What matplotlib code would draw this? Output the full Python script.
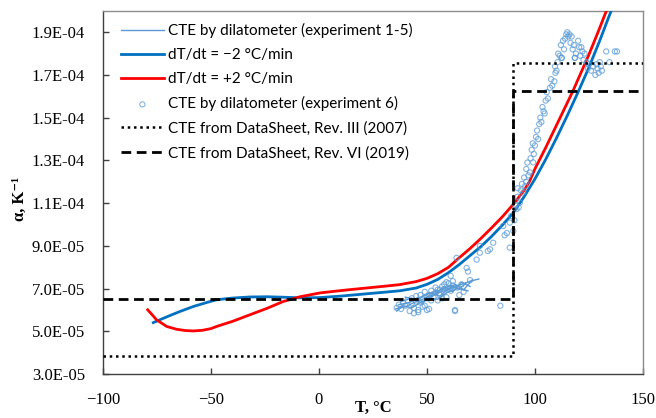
import numpy as np
import matplotlib.pyplot as plt
from matplotlib.ticker import FuncFormatter, MultipleLocator

# fitted curves (alpha in 1e-5 K^-1)
t_cool = [-76.7, -70, -64.4, -58, -52, -47.4, -40, -32, -24, -16.7, -8.8, 0, 10, 20, 30, 37.5,
          45, 50, 55, 60, 65, 70, 75, 80, 85, 90, 95, 100, 105, 110, 115, 120, 125,
          130, 134, 136.5]
a_cool = [5.41, 5.70, 5.93, 6.17, 6.35, 6.48, 6.56, 6.61, 6.62, 6.60, 6.57, 6.58, 6.65, 6.74,
          6.83, 6.90, 7.03, 7.20, 7.43, 7.75, 8.13, 8.55, 8.97, 9.45, 9.98, 10.55, 11.3, 12.13,
          13.05, 14.05, 15.1, 16.2, 17.35, 18.6, 19.66, 20.3]

t_heat = [-79.3, -77, -75.2, -72, -70.5, -66, -62, -58.2, -54, -50, -47.4, -40, -31.9, -24,
          -16.5, -8.8, 0.5, 6.6, 14, 22, 30, 37.5, 45, 50, 55, 60, 65, 70, 75, 80, 85,
          90, 95, 97.4, 100, 105, 110, 115, 117.7, 120, 125, 130, 132.5, 133.6]
a_heat = [6.01, 5.75, 5.54, 5.33, 5.23, 5.10, 5.04, 5.02, 5.05, 5.13, 5.23, 5.47, 5.78, 6.08,
          6.40, 6.62, 6.80, 6.87, 6.95, 7.03, 7.11, 7.19, 7.33, 7.48, 7.70, 8.00, 8.45, 8.88,
          9.35, 9.85, 10.37, 10.95, 11.6, 12.0, 12.6, 13.6, 14.65, 15.7, 16.27, 16.8, 17.95,
          19.2, 19.85, 20.1]

# experiments 1-5 (thin lines)
exp_t = [
    [35.5, 40, 44, 47, 50, 54, 58, 62, 66, 70, 74],
    [37, 42, 46, 45, 49, 53, 57, 61, 65, 68],
    [38, 43, 48, 52, 56, 60, 63, 67, 71],
    [40, 45, 50, 55, 52, 58, 62, 66, 70],
    [36, 39, 43, 47, 51, 55, 59, 64, 69],
]
exp_a = [
    [6.05, 6.15, 6.35, 6.45, 6.6, 6.75, 6.9, 7.05, 7.2, 7.35, 7.45],
    [6.25, 6.35, 6.6, 6.4, 6.7, 6.85, 6.95, 7.15, 7.0, 7.25],
    [6.4, 6.55, 6.3, 6.8, 6.65, 7.0, 7.2, 6.95, 7.4],
    [6.6, 6.5, 6.75, 6.9, 6.6, 7.1, 6.85, 7.3, 7.1],
    [5.95, 6.2, 6.1, 6.35, 6.55, 6.5, 6.8, 7.0, 6.9],
]

# experiment 6 (points)
e6_t = [36, 37, 38, 39, 40, 41, 42, 43, 43, 44, 45, 45, 46, 47, 47, 48, 49, 49, 50, 51, 51,
        52, 53, 54, 54, 55, 56, 56, 57, 58, 58, 59, 60, 60, 61, 62, 62, 63, 63, 64, 65, 66,
        67, 44, 46, 50, 84, 63.7, 69, 73, 78.2, 74.5, 68.4, 74.5, 79.2, 80.7, 85.3, 88.4,
        88.4, 90, 89, 91.5, 93.1, 94.6, 97.7, 99.2, 61, 70,
        90.5, 91, 92, 92.5, 93.5, 94, 95, 95.5, 96, 96.5, 97, 98, 98.5, 99, 100, 100.5, 101,
        101.5, 102, 102.5, 103, 103.5, 104, 105, 105.5, 106, 107, 107.5, 108, 109, 109.5,
        110, 110.5, 110.8, 111.5, 112, 112.5, 113, 113.5, 114, 114.5, 115, 115.5, 116, 116.5,
        117, 117.5, 118, 118.5, 119, 120, 120.5, 121, 121.5, 122, 122.5, 123, 124, 124.5,
        125, 126, 127, 128, 128.5, 129, 129.5, 130, 130.5, 131, 133, 134.5, 137, 138,
        109.3, 112.3, 118.5, 48, 52, 55, 57, 59, 61, 86, 87, 92, 96, 99.5, 104.5]
e6_a = [6.10, 6.25, 6.05, 6.35, 6.20, 6.45, 5.95, 6.30, 6.55, 6.10, 6.40, 6.65, 6.00, 6.35,
        6.70, 6.50, 6.20, 6.85, 6.55, 6.70, 6.05, 6.90, 6.60, 6.80, 7.05, 6.45, 6.95, 6.70,
        7.10, 6.85, 7.20, 6.60, 7.00, 7.25, 6.90, 7.15, 7.35, 6.00, 5.95, 7.05, 6.70, 7.20,
        6.85, 5.85, 5.90, 6.00, 6.20, 8.44, 7.80, 8.36, 8.76, 9.00, 7.97, 8.68, 8.84, 9.15,
        9.93, 8.92, 10.09, 9.70, 10.40, 10.72, 11.03, 11.50, 12.44, 12.91, 7.60, 7.40,
        10.2, 10.9, 11.3, 10.8, 11.6, 11.9, 12.2, 11.8, 12.6, 12.9, 12.3, 13.1, 13.5, 13.8,
        13.7, 14.1, 14.4, 14.0, 14.7, 15.0, 14.8, 15.5, 15.3, 15.8, 16.2, 15.9, 16.4, 16.8,
        16.5, 16.7, 17.1, 17.2, 17.6, 18.0, 17.9, 18.4, 17.8, 18.6, 18.2, 18.7, 18.9, 19.0,
        18.8, 18.9, 18.5, 18.8, 18.2, 18.4, 17.8, 18.0, 18.6, 18.3, 17.9, 18.3, 18.1, 17.7,
        18.0, 17.6, 17.3, 17.5, 17.2, 17.4, 17.0, 17.5, 17.3, 17.1, 17.6, 17.4, 17.2, 18.1,
        17.6, 18.1, 18.1, 17.4, 17.8, 17.8, 6.15, 6.45, 6.95, 6.55, 7.30, 7.05, 9.50, 9.60,
        11.7, 12.0, 13.3, 15.2]

# datasheet steps
ds3_t = [-100, 90, 90, 150]
ds3_a = [3.85, 3.85, 17.55, 17.55]
ds6_t = [-100, 90, 90, 150]
ds6_a = [6.5, 6.5, 16.25, 16.25]

scale = 1e-5
light = '#5B9BD5'

fig = plt.figure(figsize=(6.56, 4.18), dpi=100)
ax = fig.add_axes([0.157, 0.105, 0.823, 0.869])

for i in range(len(exp_t)):
    ax.plot(exp_t[i], np.array(exp_a[i]) * scale, color=light, lw=1.0,
            label='CTE by dilatometer (experiment 1-5)' if i == 0 else None, zorder=3)
ax.plot(t_cool, np.array(a_cool) * scale, color='#0070C0', lw=2.0,
        label='dT/dt = \u22122 \u00b0C/min', zorder=4)
ax.plot(t_heat, np.array(a_heat) * scale, color='#FF0000', lw=2.0,
        label='dT/dt = +2 \u00b0C/min', zorder=4)
ax.scatter(e6_t, np.array(e6_a) * scale, s=14, facecolors='none', edgecolors=light,
           linewidths=0.8, alpha=0.75, label='CTE by dilatometer (experiment 6)', zorder=5)
ax.plot(ds3_t, np.array(ds3_a) * scale, color='black', lw=1.8, ls=(0, (1, 1.5)),
        label='CTE from DataSheet, Rev. III (2007)', zorder=6)
ax.plot(ds6_t, np.array(ds6_a) * scale, color='black', lw=2.0, ls=(0, (3.5, 2)),
        label='CTE from DataSheet, Rev. VI (2019)', zorder=6)

ax.set_xlim(-100, 150)
ax.set_ylim(3e-5, 2.0e-4)
ax.xaxis.set_major_locator(MultipleLocator(50))
ax.set_yticks(np.arange(3e-5, 1.95e-4, 2e-5))
ax.yaxis.set_major_formatter(FuncFormatter(lambda v, p: f'{v:.1E}'))
ax.tick_params(direction='in', length=4, width=1, pad=13, labelsize=12, colors='#404040',
               labelcolor='black', top=False, right=False)
for lab in ax.get_xticklabels() + ax.get_yticklabels():
    lab.set_fontfamily('Liberation Serif')

for s in ['left', 'bottom']:
    ax.spines[s].set_color('#404040')
    ax.spines[s].set_linewidth(1.0)
for s in ['top', 'right']:
    ax.spines[s].set_color('#8c8c8c')
    ax.spines[s].set_linewidth(1.0)

fig.text(373 / 656, 1 - 408 / 418, 'T, \u00b0C', ha='center', va='center', fontsize=12,
         fontweight='bold', family=['Liberation Serif', 'DejaVu Serif'])
fig.text(20 / 656, 1 - 199 / 418, '\u03b1, K\u207b\u00b9', ha='center', va='center',
         rotation=90, fontsize=12, fontweight='bold',
         family=['Liberation Serif', 'DejaVu Serif'])

ax.legend(loc='upper left', bbox_to_anchor=(121 / 656, 1 - 23 / 418),
          bbox_transform=fig.transFigure, frameon=False, borderpad=0, borderaxespad=0,
          handlelength=2.8, handletextpad=0.3, labelspacing=0.66,
          prop={'family': 'Lato', 'size': 11})

fig.savefig('out.png', dpi=100)
